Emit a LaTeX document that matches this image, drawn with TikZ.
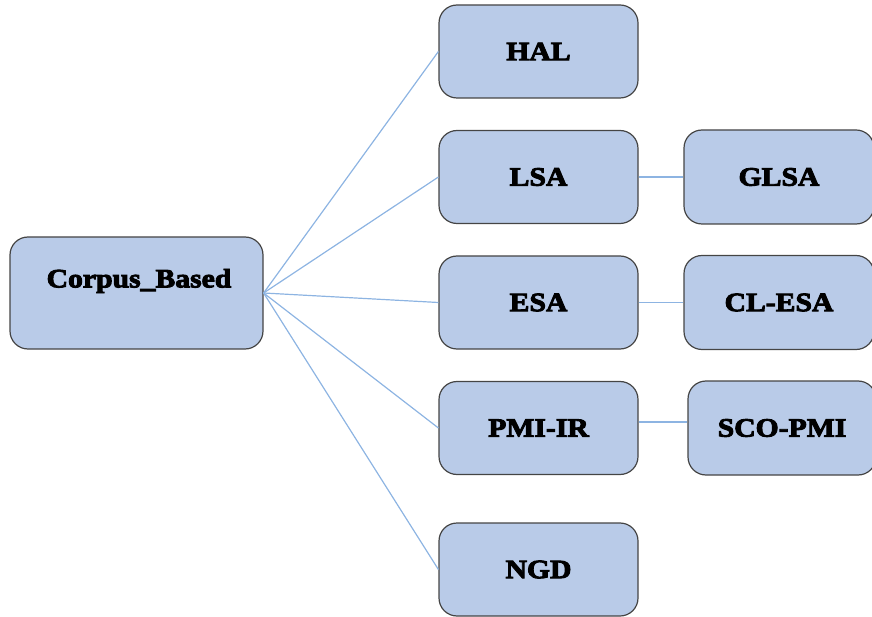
\documentclass[tikz,border=0pt]{standalone}
\usepackage{fontspec}
\setmainfont{Liberation Serif}
\newfontfamily\heavyfont[FakeBold=3.5,FakeStretch=1.12]{Liberation Serif Bold}
\definecolor{boxfill}{HTML}{B9CBE8}
\definecolor{boxline}{HTML}{454545}
\definecolor{linkcol}{HTML}{8DB4E2}
\begin{document}
\begin{tikzpicture}[x=1pt,y=-1pt,
  box/.style={draw=boxline, line width=1.2pt, fill=boxfill, rounded corners=18pt,
    minimum width=199pt, minimum height=93pt, inner sep=0pt,
    font=\heavyfont\fontsize{26.5}{30}\selectfont, text=black},
  link/.style={draw=linkcol, line width=1.2pt}]
\useasboundingbox (0,0) rectangle (872,617);
\node[box, minimum width=253pt, minimum height=112pt] (cb) at (136.5,293) {};
\node[font=\heavyfont\fontsize{26.5}{30}\selectfont] (cbt) at (139,281) {Corpus\_Based};
\node[box] (hal) at (538.5,51.5) {HAL};
\node[box] (lsa) at (538.5,177) {LSA};
\node[box] (esa) at (538.5,302.5) {ESA};
\node[box] (pmi) at (538.5,428) {PMI-IR};
\node[box] (ngd) at (538.5,569.5) {NGD};
\node[box, minimum width=190pt, minimum height=94pt] (glsa) at (779,177) {GLSA};
\node[box, minimum width=190pt, minimum height=94pt] (clesa) at (779,302.5) {CL-ESA};
\node[box, minimum width=188pt, minimum height=94pt] (sco) at (782,428) {SCO-PMI};
\foreach \t in {hal,lsa,esa,pmi,ngd}{\draw[link] (cb.east) -- (\t.west);}
\draw[link] (lsa.east) -- (glsa.west);
\draw[link] (esa.east) -- (clesa.west);
\draw[link] ([yshift=6pt]pmi.east) -- ([yshift=6pt]sco.west);
\end{tikzpicture}
\end{document}
